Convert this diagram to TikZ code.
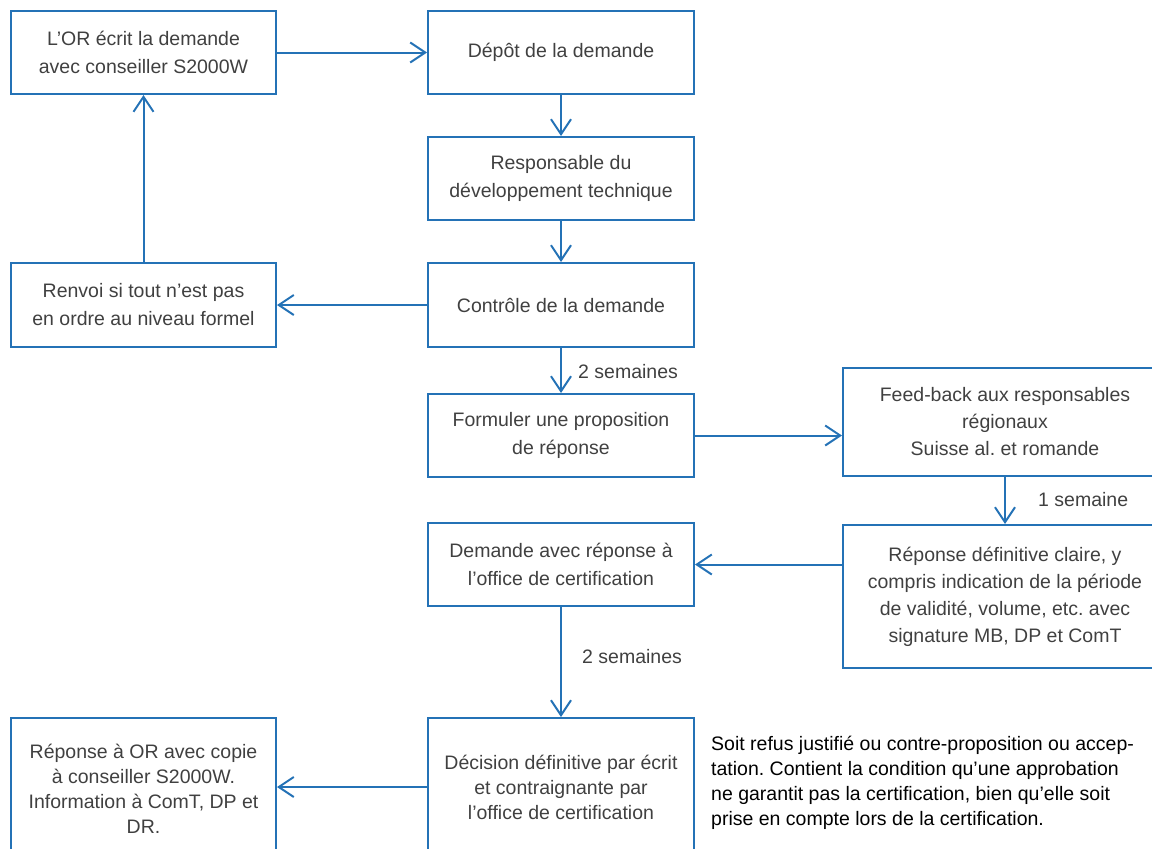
\documentclass[tikz,border=0pt]{standalone}
\usepackage{fontspec}
\setmainfont{Liberation Sans}
\usetikzlibrary{arrows.meta}
\definecolor{flowblue}{RGB}{36,114,182}
\definecolor{boxtext}{RGB}{64,64,64}
\frenchspacing
\begin{document}
\begin{tikzpicture}[x=1pt,y=-1pt,
  box/.style={draw=flowblue, line width=2pt, inner sep=0pt, align=center,
    text=boxtext, font=\fontsize{19.5}{28}\selectfont},
  narrowbox/.style={box, minimum width=265pt},
  widebox/.style={box, minimum width=324pt, font=\fontsize{19.5}{27}\selectfont},
  lowbox/.style={box, font=\fontsize{19.5}{25}\selectfont},
  flow/.style={draw=flowblue, line width=2pt,
    -{Straight Barb[length=15pt,width=20pt,line width=2pt]}},
  lbl/.style={text=boxtext, inner sep=0pt, anchor=west, font=\fontsize{19.5}{25}\selectfont},
  note/.style={text=black, inner sep=0pt, anchor=west, align=left,
    font=\fontsize{19.5}{25}\selectfont}]
\useasboundingbox (0,0) rectangle (1152,849);
\clip (0,0) rectangle (1152,849);

% left column
\node[narrowbox, minimum height=83pt] (or) at (143.5,52.5)
  {L’OR écrit la demande\\avec conseiller S2000W};
\node[narrowbox, minimum height=84pt] (renvoi) at (143.5,305)
  {Renvoi si tout n’est pas\\en ordre au niveau formel};
\node[lowbox, minimum width=265pt, minimum height=142pt] (rep) at (143.5,789)
  {Réponse à OR avec copie\\à conseiller S2000W.\\Information à ComT, DP et\\DR.};

% centre column
\node[narrowbox, minimum width=266pt, minimum height=83pt] (depot) at (561,52.5)
  {Dépôt de la demande};
\node[narrowbox, minimum width=266pt, minimum height=83pt] (resp) at (561,178.5)
  {Responsable du\\développement technique};
\node[narrowbox, minimum width=266pt, minimum height=84pt] (ctrl) at (561,305)
  {Contrôle de la demande};
\node[narrowbox, minimum width=266pt, minimum height=83pt] (form) at (561,435.5)
  {Formuler une proposition\\de réponse};
\node[narrowbox, minimum width=266pt, minimum height=83pt] (dem) at (561,564.5)
  {Demande avec réponse à\\l’office de certification};
\node[lowbox, minimum width=266pt, minimum height=138pt] (dec) at (561,787)
  {Décision définitive par écrit\\et contraignante par\\l’office de certification};

% right column
\node[widebox, minimum height=108pt] (feed) at (1005,422)
  {Feed-back aux responsables\\régionaux\\Suisse al. et romande};
\node[widebox, minimum height=143pt] (def) at (1005,596.5)
  {Réponse définitive claire, y\\compris indication de la période\\de validité, volume, etc. avec\\signature MB, DP et ComT};

% remark next to the final decision
\node[note] (rem) at (711,782.5)
  {Soit refus justifié ou contre-proposition ou accep-\\tation. Contient la condition qu’une approbation\\ne garantit pas la certification, bien qu’elle soit\\prise en compte lors de la certification.};

% delays
\node[lbl] (w1) at (578,372) {2 semaines};
\node[lbl] (w2) at (1038,500) {1 semaine};
\node[lbl] (w3) at (582,657) {2 semaines};

% connectors
\draw[flow] (or.east) -- (depot.west);
\draw[flow] (depot.south) -- (resp.north);
\draw[flow] (resp.south) -- (ctrl.north);
\draw[flow] (ctrl.west) -- (renvoi.east);
\draw[flow] (renvoi.north) -- (or.south);
\draw[flow] (ctrl.south) -- (form.north);
\draw[flow] (form.east) -- (form.east -| feed.west);
\draw[flow] (feed.south) -- (def.north);
\draw[flow] (def.west |- dem.east) -- (dem.east);
\draw[flow] (dem.south) -- (dec.north);
\draw[flow] (dec.west) -- (dec.west -| rep.east);
\end{tikzpicture}
\end{document}
